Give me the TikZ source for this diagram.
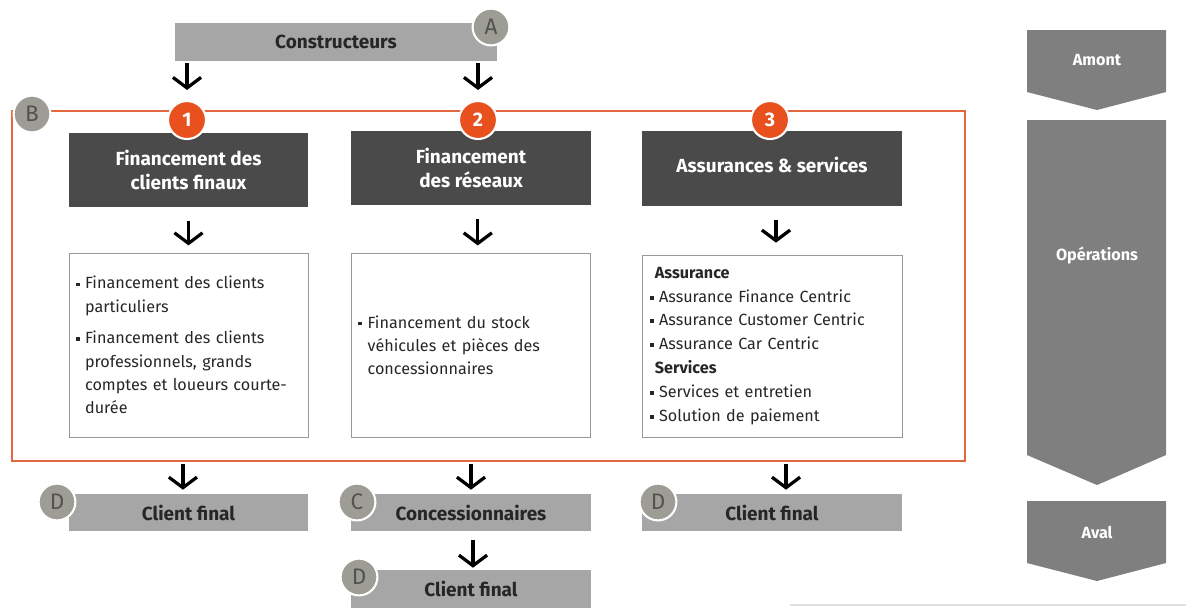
\documentclass[tikz,border=0pt]{standalone}
\usepackage{fontspec}
\setmainfont{Fira Sans}
\usepackage{tikz}
\usetikzlibrary{arrows.meta}
\definecolor{grisclair}{HTML}{A6A6A6}
\definecolor{grisfonce}{HTML}{4A4A4A}
\definecolor{grismoyen}{HTML}{7F7F7F}
\definecolor{grispastille}{HTML}{9E9D95}
\definecolor{orangevif}{HTML}{E8501E}
\definecolor{orangecadre}{HTML}{E2683F}
\definecolor{texte}{HTML}{262626}
\newcommand{\puce}{\makebox[6.5pt][l]{\rule[0.3ex]{2.8pt}{2.8pt}}}
\newcommand{\suite}{\hspace*{6.5pt}}
\tikzset{
	fleche/.style={line width=2.3pt,-{Straight Barb[length=7.5pt,width=20pt]}},
	boitegris/.style={rectangle,fill=grisclair,minimum width=5.975cm,minimum height=0.925cm,text=texte,font=\bfseries\fontsize{13.5}{15}\selectfont},
	titre/.style={rectangle,fill=grisfonce,minimum width=5.975cm,minimum height=1.85cm,text=white,align=center,font=\bfseries\fontsize{13.5}{17}\selectfont},
	contenu/.style={rectangle,draw=black!40,line width=0.5pt,minimum height=4.6cm,inner xsep=0.175cm,text width=5.625cm,align=left,text=texte,font=\fontsize{11.5}{16.5}\selectfont},
	lettre/.style={circle,fill=grispastille,draw=white,line width=1.5pt,minimum size=0.92cm,inner sep=0pt,text=black!68,font=\fontsize{16}{16}\selectfont},
	numero/.style={circle,fill=orangevif,draw=white,line width=1.5pt,minimum size=0.95cm,inner sep=0pt,text=white,font=\bfseries\fontsize{14}{14}\selectfont},
	cadre/.style={rectangle,draw=orangecadre,line width=1.8pt,minimum width=23.825cm,minimum height=8.75cm},
	chevron/.style={fill=grismoyen},
	etape/.style={text=white,font=\bfseries\fontsize{11.5}{13}\selectfont}
}
\begin{document}
\begin{tikzpicture}[x=0.025cm,y=-0.025cm]
	\useasboundingbox (0,0) rectangle (1186,608);
	\node[boitegris,minimum width=8.05cm,minimum height=0.95cm] (cons) at (336,42) {Constructeurs};
	\node[cadre] (cadre) at (488.5,286) {};
	\node[titre] (t1) at (188.5,170) {Financement des\\clients finaux};
	\node[titre] (t2) at (471,168) {Financement\\des réseaux};
	\node[titre,minimum width=6.5cm,text depth=0.2cm] (t3) at (772,168.5) {Assurances \& services};
	\node[contenu] (c1) at (188.5,345) {\puce Financement des clients\\\suite particuliers\\[6pt]\puce Financement des clients\\\suite professionnels, grands\\\suite comptes et loueurs courte-\\\suite durée};
	\node[contenu] (c2) at (471,345) {\puce Financement du stock\\\suite véhicules et pièces des\\\suite concessionnaires};
	\node[contenu,minimum height=4.55cm,inner xsep=0.2cm,text width=6.1cm,font=\fontsize{11.5}{17}\selectfont] (c3) at (772,346) {\hspace*{3.5pt}\textbf{Assurance}\\\puce Assurance Finance Centric\\\puce Assurance Customer Centric\\\puce Assurance Car Centric\\\hspace*{3.5pt}\textbf{Services}\\\puce Services et entretien\\\puce Solution de paiement};
	\node[boitegris] (f1) at (188.5,512.5) {Client final};
	\node[boitegris] (f2) at (471,512.5) {Concessionnaires};
	\node[boitegris,minimum width=6.5cm] (f3) at (772,512.5) {Client final};
	\node[boitegris,minimum height=0.95cm] (f4) at (471,589) {Client final};
	\node[numero] (n1) at (187,120) {1};
	\node[numero] (n2) at (478,120) {2};
	\node[numero] (n3) at (770,120) {3};
	\draw[fleche,shorten <=0.05cm,shorten >=0.25cm] (cons.south -| n1) -- (n1.north);
	\draw[fleche,shorten <=0.05cm,shorten >=0.25cm] (cons.south -| n2) -- (n2.north);
	\draw[fleche,shorten <=0.35cm,shorten >=0.18cm] (t1.south) -- (c1.north);
	\draw[fleche,shorten <=0.35cm,shorten >=0.18cm] ([xshift=0.17cm]t2.south) -- ([xshift=0.17cm]c2.north);
	\draw[fleche,shorten <=0.35cm,shorten >=0.3cm] ([xshift=0.1cm]t3.south) -- ([xshift=0.1cm]c3.north);
	\draw[fleche,shorten <=0.05cm,shorten >=0.1cm] ([xshift=-0.14cm]cadre.south -| f1.north) -- ([xshift=-0.14cm]f1.north);
	\draw[fleche,shorten <=0.05cm,shorten >=0.1cm] (cadre.south -| f2.north) -- (f2.north);
	\draw[fleche,shorten <=0.05cm,shorten >=0.1cm] ([xshift=0.35cm]cadre.south -| f3.north) -- ([xshift=0.35cm]f3.north);
	\draw[fleche,shorten <=0.22cm,shorten >=0.05cm] ([xshift=0.05cm]f2.south) -- ([xshift=0.05cm]f4.north);
	\node[lettre] (a) at (491,27) {A};
	\node[lettre] (b) at (32,114) {B};
	\node[lettre] (d1) at (57,502) {D};
	\node[lettre] (c) at (357,502) {C};
	\node[lettre] (d3) at (658,502) {D};
	\node[lettre] (d4) at (359,577) {D};
	\fill[chevron] (1027,30) -- (1166,30) -- (1166,92) -- (1097,110) -- (1027,92) -- cycle;
	\fill[chevron] (1027,120) -- (1166,120) -- (1166,455) -- (1097,485) -- (1027,455) -- cycle;
	\fill[chevron] (1027,501) -- (1166,501) -- (1166,563) -- (1097,581) -- (1027,563) -- cycle;
	\node[etape] (amont) at (1097,60) {Amont};
	\node[etape] (ops) at (1097,256) {Opérations};
	\node[etape] (aval) at (1097,532) {Aval};
	\draw[black!12,line width=0.8pt] (790,605) -- (1186,605);
\end{tikzpicture}
\end{document}
